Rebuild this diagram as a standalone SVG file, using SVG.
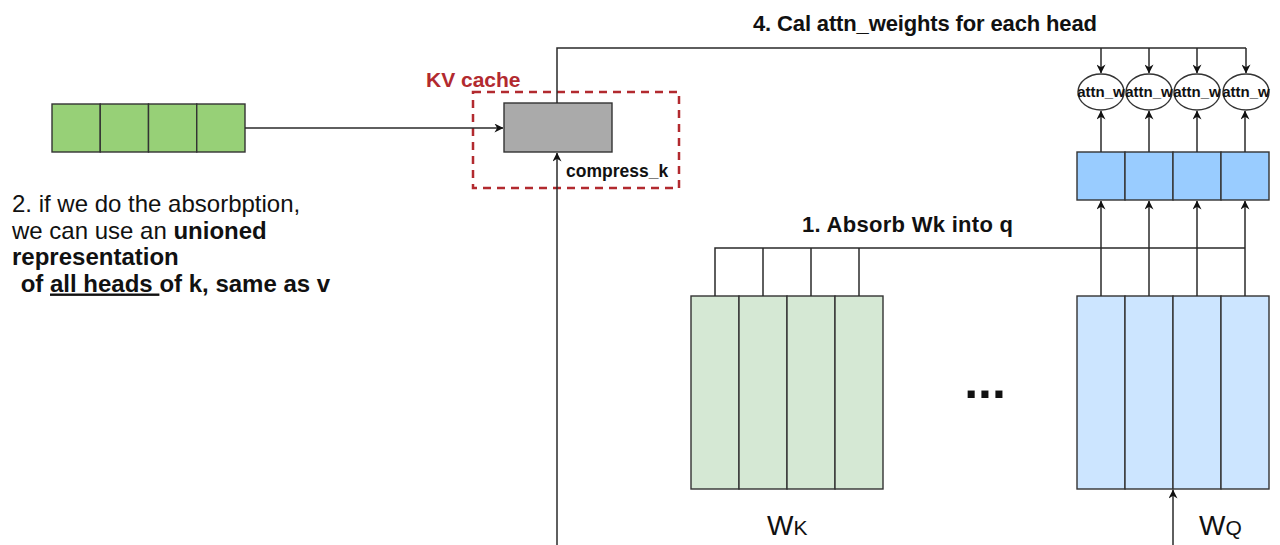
<svg xmlns="http://www.w3.org/2000/svg" width="1280" height="545" viewBox="0 0 1280 545">
<defs>
<marker id="arr" viewBox="0 0 10 10" refX="9.5" refY="5" markerWidth="9" markerHeight="9" markerUnits="userSpaceOnUse" orient="auto">
<path d="M0,0 L10,5 L0,10 L3,5 z" fill="#111"/>
</marker>
<style>
.ln{fill:none;stroke:#2a2a2a;stroke-width:1.5}
.cell{stroke:#333;stroke-width:1.4}
.t{font-family:"Liberation Sans",Arial,sans-serif;fill:#111}
.b{font-weight:bold}
</style>
</defs>
<rect width="1280" height="545" fill="#ffffff"/>

<g id="input-vector">
<rect class="cell" x="52" y="104" width="48.25" height="48" fill="#97d077"/>
<rect class="cell" x="100.25" y="104" width="48.25" height="48" fill="#97d077"/>
<rect class="cell" x="148.5" y="104" width="48.25" height="48" fill="#97d077"/>
<rect class="cell" x="196.75" y="104" width="48.25" height="48" fill="#97d077"/>
</g>

<g id="kv-cache">
<rect x="473" y="92" width="206" height="96" fill="none" stroke="#b22a2f" stroke-width="2.5" stroke-dasharray="8,6"/>
<text class="t b" x="426" y="87" font-size="21" style="fill:#b22a2f">KV cache</text>
</g>

<g id="compress-k">
<rect class="cell" x="504" y="103" width="108" height="49" fill="#aaaaaa"/>
<text class="t b" x="566" y="177" font-size="17.5">compress_k</text>
</g>

<g id="note-2">
<text class="t" x="12" y="212" font-size="24">2. if we do the absorbption,</text>
<text class="t" x="12" y="238.5" font-size="24">we can use an <tspan class="b">unioned</tspan></text>
<text class="t b" x="12" y="265" font-size="24">representation</text>
<text class="t b" x="14" y="291.5" font-size="24" xml:space="preserve"> of <tspan text-decoration="underline">all heads </tspan>of k, same as v</text>
</g>

<g id="label-4">
<text class="t b" x="753" y="31" font-size="22" textLength="344">4. Cal attn_weights for each head</text>
</g>

<g id="label-1">
<text class="t b" x="802" y="232" font-size="22" textLength="211">1. Absorb Wk into q</text>
</g>

<g id="attn-weights">
<ellipse cx="1101" cy="92" rx="23" ry="18" fill="#fff" stroke="#333" stroke-width="1.4"/>
<ellipse cx="1149" cy="92" rx="23" ry="18" fill="#fff" stroke="#333" stroke-width="1.4"/>
<ellipse cx="1197" cy="92" rx="23" ry="18" fill="#fff" stroke="#333" stroke-width="1.4"/>
<ellipse cx="1246" cy="92" rx="23" ry="18" fill="#fff" stroke="#333" stroke-width="1.4"/>
<text class="t b" x="1101" y="97" font-size="15" text-anchor="middle">attn_w</text>
<text class="t b" x="1149" y="97" font-size="15" text-anchor="middle">attn_w</text>
<text class="t b" x="1197" y="97" font-size="15" text-anchor="middle">attn_w</text>
<text class="t b" x="1246" y="97" font-size="15" text-anchor="middle">attn_w</text>
</g>

<g id="q-heads">
<rect class="cell" x="1077" y="152" width="48" height="48" fill="#99ccff"/>
<rect class="cell" x="1125" y="152" width="48" height="48" fill="#99ccff"/>
<rect class="cell" x="1173" y="152" width="48" height="48" fill="#99ccff"/>
<rect class="cell" x="1221" y="152" width="48" height="48" fill="#99ccff"/>
</g>

<g id="wk">
<rect class="cell" x="691" y="296" width="48" height="193" fill="#d5e8d4"/>
<rect class="cell" x="739" y="296" width="48" height="193" fill="#d5e8d4"/>
<rect class="cell" x="787" y="296" width="48" height="193" fill="#d5e8d4"/>
<rect class="cell" x="835" y="296" width="48" height="193" fill="#d5e8d4"/>
<text class="t" x="767" y="535" font-size="28">W<tspan font-size="21">K</tspan></text>
</g>

<g id="wq">
<rect class="cell" x="1077" y="296" width="48" height="193" fill="#cce5ff"/>
<rect class="cell" x="1125" y="296" width="48" height="193" fill="#cce5ff"/>
<rect class="cell" x="1173" y="296" width="48" height="193" fill="#cce5ff"/>
<rect class="cell" x="1221" y="296" width="48" height="193" fill="#cce5ff"/>
<text class="t" x="1199" y="535" font-size="28">W<tspan font-size="21">Q</tspan></text>
</g>

<g id="ellipsis">
<text class="t b" x="985" y="398" font-size="50" text-anchor="middle">...</text>
</g>

<g id="connectors">
<path class="ln" d="M245,128 H503" marker-end="url(#arr)"/>
<path class="ln" d="M557,545 V153" marker-end="url(#arr)"/>
<path class="ln" d="M557,103 V48 H1246"/>
<path class="ln" d="M1101,48 V73" marker-end="url(#arr)"/>
<path class="ln" d="M1149,48 V73" marker-end="url(#arr)"/>
<path class="ln" d="M1197,48 V73" marker-end="url(#arr)"/>
<path class="ln" d="M1246,48 V73" marker-end="url(#arr)"/>
<path class="ln" d="M1101,152 V111" marker-end="url(#arr)"/>
<path class="ln" d="M1149,152 V111" marker-end="url(#arr)"/>
<path class="ln" d="M1197,152 V111" marker-end="url(#arr)"/>
<path class="ln" d="M1245,152 V111" marker-end="url(#arr)"/>
<path class="ln" d="M715,296 V248 H1245"/>
<path class="ln" d="M763,296 V248"/>
<path class="ln" d="M811,296 V248"/>
<path class="ln" d="M859,296 V248"/>
<path class="ln" d="M1101,296 V201" marker-end="url(#arr)"/>
<path class="ln" d="M1149,296 V201" marker-end="url(#arr)"/>
<path class="ln" d="M1197,296 V201" marker-end="url(#arr)"/>
<path class="ln" d="M1245,296 V201" marker-end="url(#arr)"/>
<path class="ln" d="M1173,545 V490" marker-end="url(#arr)"/>
</g>
</svg>
